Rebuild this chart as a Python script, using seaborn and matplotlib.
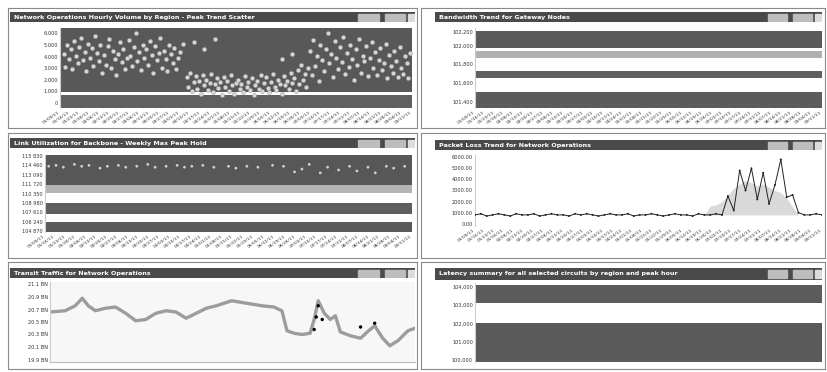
import numpy as np
import pandas as pd
import matplotlib
matplotlib.use('Agg')
import matplotlib.pyplot as plt
import seaborn as sns

W, H = 827, 372

# titulos de los paneles (texto casi ilegible en la captura)
titles = [
    'Network Operations Hourly Volume by Region - Peak Trend Scatter',
    'Bandwidth Trend for Gateway Nodes',
    'Link Utilization for Backbone - Weekly Max Peak Hold',
    'Packet Loss Trend for Network Operations',
    'Transit Traffic for Network Operations',
    'Latency summary for all selected circuits by region and peak hour',
]

# panel 1: nube de puntos
p1_x = [1, 1.5, 2, 2.5, 3, 3.5, 4, 4.5, 5, 5.5, 6, 6.5, 7, 7.5, 8, 8.5, 9, 9.5, 10, 10.5,
        11, 11.5, 12, 12.5, 13, 13.5, 14, 14.5, 15, 15.5, 16, 16.5, 17, 17.5, 18, 18.5, 19,
        19.5, 20, 20.5, 21, 21.5, 22, 22.5, 23, 23.5, 24, 24.5, 25, 25.5, 26, 26.5, 27, 27.5,
        28, 28.5, 29, 29.5, 30, 30.5, 31, 31.5, 32, 32.5, 33, 33.5, 34, 35,
        36, 36.5, 37, 37.5, 38, 38.5, 39, 39.5, 40, 40.5, 41, 41.5, 42, 42.5, 43, 43.5, 44,
        44.5, 45, 45.5, 46, 46.5, 47, 47.5, 48, 48.5, 49, 49.5, 50, 50.5, 51, 51.5, 52, 52.5,
        53, 53.5, 54, 54.5, 55, 55.5, 56, 56.5, 57, 57.5, 58, 58.5, 59, 59.5, 60, 60.5, 61,
        61.5, 62, 62.5, 63, 63.5, 64, 64.5, 65, 65.5, 66, 66.5, 67, 67.5, 68, 68.5, 69, 69.5,
        70, 70.5, 38, 41, 44, 63, 66,
        71, 71.5, 72, 72.5, 73, 73.5, 74, 74.5, 75, 75.5, 76, 76.5, 77, 77.5, 78, 78.5, 79,
        79.5, 80, 80.5, 81, 81.5, 82, 82.5, 83, 83.5, 84, 84.5, 85, 85.5, 86, 86.5, 87, 87.5,
        88, 88.5, 89, 89.5, 90, 90.5, 91, 91.5, 92, 92.5, 93, 93.5, 94, 94.5, 95, 95.5, 96,
        96.5, 97, 97.5, 98, 98.5, 99, 99.5]
p1_y = [4.2, 3.1, 5.0, 3.8, 4.6, 2.9, 5.3, 4.0, 3.4, 4.8, 5.6, 3.7, 4.4, 2.7, 5.1, 3.9, 4.7, 3.2, 5.8, 4.3,
        3.6, 5.0, 2.6, 4.1, 3.3, 4.9, 5.5, 3.0, 4.5, 3.8, 2.4, 4.2, 5.2, 3.5, 4.6, 2.9, 3.9,
        5.4, 4.0, 3.2, 4.8, 6.0, 3.6, 4.4, 2.8, 5.0, 3.9, 4.6, 3.3, 5.3, 4.1, 2.6, 4.9, 3.7,
        4.3, 5.6, 3.0, 4.5, 3.8, 2.7, 5.0, 4.2, 3.4, 4.7, 2.9, 3.9, 4.4, 5.1,
        2.2, 1.4, 2.6, 1.0, 1.8, 2.3, 1.2, 1.9, 0.8, 2.4, 1.5, 2.0, 1.1, 1.7, 2.5, 0.9, 1.6,
        2.1, 1.3, 1.8, 0.7, 2.2, 1.4, 1.9, 1.0, 2.4, 1.5, 0.8, 1.7, 2.0, 1.2, 1.6, 0.9, 2.3,
        1.4, 1.8, 1.1, 2.1, 0.7, 1.5, 1.9, 1.2, 2.4, 1.0, 1.7, 2.2, 1.3, 0.9, 1.8, 2.5, 1.4,
        1.1, 2.0, 1.6, 0.8, 2.3, 1.5, 1.9, 1.2, 2.6, 1.7, 2.1, 1.0, 2.8, 1.6, 3.3, 2.0, 2.5,
        1.4, 3.0, 5.2, 4.6, 5.5, 3.8, 4.2,
        4.5, 2.4, 5.4, 3.2, 4.0, 1.9, 5.0, 3.7, 2.7, 4.6, 6.0, 3.4, 4.2, 2.2, 5.3, 3.9, 2.9,
        4.8, 3.5, 5.7, 2.5, 4.3, 3.1, 5.0, 3.8, 2.0, 4.6, 3.3, 5.5, 2.6, 4.0, 3.6, 4.9, 2.3,
        3.9, 5.2, 3.0, 4.4, 2.4, 3.7, 4.7, 2.8, 3.4, 5.1, 2.1, 4.1, 3.2, 2.6, 4.5, 3.6, 2.2,
        4.8, 3.0, 2.5, 4.0, 3.4, 2.1, 4.3]
p1_yticks = ['0', '1,000', '2,000', '3,000', '4,000', '5,000', '6,000']
p1_bands = [(-0.45, 0.68, '#606060'), (0.94, 6.45, '#585858')]

# panel 2: franjas
p2_yticks = ['101,400', '101,600', '101,800', '102,000', '102,200']
p2_tickpos = [0.4, 1.9, 3.4, 4.9, 6.0]
p2_bands = [(-0.1, 1.2, '#5c5c5c'), (2.3, 2.9, '#606060'), (3.9, 4.5, '#b0b0b0'), (4.7, 6.1, '#5a5a5a')]

# panel 3: franjas con puntos arriba
p3_x = [1, 3, 5, 8, 10, 12, 15, 17, 20, 22, 25, 28, 30, 33, 36, 38, 40, 43, 46, 50, 52, 55,
        58, 62, 65, 68, 70, 72, 75, 77, 80, 83, 85, 88, 90, 93, 95, 98]
p3_y = [6.9, 7.0, 6.8, 7.1, 6.9, 7.0, 6.7, 6.9, 7.0, 6.8, 6.9, 7.1, 6.8, 6.9, 7.0, 6.8, 6.9,
        7.0, 6.8, 6.9, 6.7, 6.9, 6.8, 7.0, 6.9, 6.3, 6.6, 7.1, 6.2, 6.8, 6.5, 6.9, 6.4, 6.8,
        6.2, 6.9, 6.7, 6.9]
p3_yticks = ['104 870', '106 240', '107 610', '108 980', '110 350', '111 720', '113 090',
             '114 460', '115 830']
p3_bands = [(-0.1, 1.0, '#5a5a5a'), (1.8, 3.0, '#5e5e5e'), (4.1, 4.9, '#b4b4b4'), (4.9, 8.1, '#575757')]

# panel 4: linea con picos
p4_y = [0.8, 0.9, 0.7, 0.8, 0.9, 0.8, 0.7, 0.9, 0.8, 0.8, 0.9, 0.7, 0.8, 0.9, 0.8, 0.8,
        0.7, 0.9, 0.8, 0.9, 0.8, 0.7, 0.8, 0.9, 0.8, 0.8, 0.9, 0.7, 0.8, 0.8, 0.9, 0.8,
        0.7, 0.8, 0.9, 0.8, 0.8, 0.7, 0.9, 0.8, 0.8, 0.9, 0.8, 2.5, 1.2, 4.8, 3.0, 5.0,
        2.2, 4.6, 1.8, 3.5, 5.8, 2.4, 2.6, 1.0, 0.8, 0.8, 0.9, 0.8]
p4_shade = [0, 0, 0, 0, 0, 0, 0, 0, 0, 0, 0, 0, 0, 0, 0, 0, 0, 0, 0, 0, 0, 0, 0, 0, 0, 0,
            0, 0, 0, 0, 0, 0, 0, 0, 0, 0, 0, 0, 0, 0, 1.6, 1.7, 2.0, 2.6, 3.2, 3.6, 3.9, 3.7,
            3.4, 3.6, 3.3, 3.0, 2.8, 2.3, 1.5, 0, 0, 0, 0, 0]
p4_yticks = ['0.00', '1000.00', '2000.00', '3000.00', '4000.00', '5000.00', '6000.00']

# panel 5: linea suave
p5_x = [0, 15, 25, 32, 38, 45, 55, 65, 75, 85, 95, 105, 115, 125, 135, 145, 155, 165, 180,
        195, 210, 222, 230, 235, 242, 250, 258, 262, 266, 272, 278, 283, 288, 298, 308,
        316, 322, 330, 337, 345, 355, 362]
p5_y = [3.8, 3.9, 4.3, 4.9, 4.3, 3.9, 4.1, 4.2, 3.7, 3.1, 3.2, 3.7, 3.9, 3.8, 3.3, 3.7,
        4.1, 4.3, 4.7, 4.5, 4.3, 4.2, 3.9, 2.3, 2.1, 2.0, 2.1, 3.2, 4.7, 3.7, 3.2, 3.5,
        2.2, 1.9, 1.7, 2.3, 2.7, 1.7, 1.1, 1.5, 2.3, 2.5]
p5_dots_x = [322, 262, 264, 266, 270, 308]
p5_dots_y = [2.9, 2.4, 3.4, 4.3, 3.2, 2.6]
p5_yticks = ['19.9 BN', '20.1 BN', '20.3 BN', '20.5 BN', '20.7 BN', '20.9 BN', '21.1 BN']

# panel 6: franjas
p6_yticks = ['100,000', '101,000', '102,000', '103,000', '104,000']
p6_bands = [(-0.1, 2.0, '#5a5a5a'), (3.1, 4.1, '#5c5c5c')]

# etiquetas del eje x (fechas)
dates = pd.date_range('2011-01-03', periods=36, freq='W').strftime('%m/%d/%y').tolist()

sns.set_style('white')
plt.rcParams['font.family'] = ['DejaVu Sans']

fig = plt.figure(figsize=(8.27, 3.72), dpi=100)
fig.patch.set_facecolor('white')


def rect(x0, y0, x1, y1):
    return [x0 / W, 1 - y1 / H, (x1 - x0) / W, (y1 - y0) / H]


def frame(x0, y0, x1, y1):
    fr = fig.add_axes(rect(x0, y0, x1, y1), zorder=-5)
    fr.set_xticks([])
    fr.set_yticks([])
    for s in fr.spines.values():
        s.set_color('#8a8a8a')
        s.set_linewidth(0.8)


def title_bar(x0, y0, x1, y1, text):
    tb = fig.add_axes(rect(x0, y0, x1, y1))
    tb.set_facecolor('#4a4a4a')
    tb.set_xlim(0, 1)
    tb.set_ylim(0, 1)
    tb.set_xticks([])
    tb.set_yticks([])
    for s in tb.spines.values():
        s.set_visible(False)
    tb.text(0.01, 0.5, text, color='white', fontsize=4.6, fontweight='bold', va='center')
    for xi in [0.86, 0.925]:
        tb.add_patch(plt.Rectangle((xi, 0.15), 0.05, 0.7, color='#bdbdbd'))
    tb.add_patch(plt.Rectangle((0.982, 0.15), 0.016, 0.7, color='#dcdcdc'))


def setup(ax, ylim, labels, xlim=(0, 100), rot=35, ypos=None):
    ax.set_xlim(*xlim)
    ax.set_ylim(*ylim)
    ax.set_yticks(ypos if ypos is not None else range(len(labels)))
    ax.set_yticklabels(labels, fontsize=3.6, color='#333333')
    xt = np.linspace(xlim[0], xlim[1], len(dates))
    ax.set_xticks(xt)
    ax.set_xticklabels(dates, fontsize=3.2, rotation=rot, ha='right', color='#333333')
    ax.tick_params(length=0, pad=1.5)
    ax.set_xlabel('')
    ax.set_ylabel('')
    for s in ax.spines.values():
        s.set_visible(False)
    ax.spines['left'].set_visible(True)
    ax.spines['left'].set_color('#cccccc')


def bands(ax, spec):
    for lo, hi, c in spec:
        ax.axhspan(lo, hi, color=c, zorder=0, lw=0)


# marcos de los paneles
frame(8, 8, 417, 128)
frame(421, 8, 825, 128)
frame(8, 133, 417, 258)
frame(421, 133, 825, 258)
frame(8, 262, 417, 369)
frame(421, 262, 825, 369)

# panel 1
title_bar(10, 12, 415, 22, titles[0])
ax1 = fig.add_axes(rect(60, 28, 412, 108))
bands(ax1, p1_bands)
sns.scatterplot(x=p1_x, y=p1_y, ax=ax1, color='#d6d6d6', s=9, edgecolor='#9a9a9a',
                linewidth=0.3, zorder=3)
setup(ax1, (-0.45, 6.45), p1_yticks)

# panel 2
title_bar(435, 12, 822, 22, titles[1])
ax2 = fig.add_axes(rect(475, 28, 822, 108))
bands(ax2, p2_bands)
setup(ax2, (-0.1, 6.3), p2_yticks, ypos=p2_tickpos)

# panel 3
title_bar(10, 138, 415, 148, titles[2])
ax3 = fig.add_axes(rect(45, 155, 412, 232))
bands(ax3, p3_bands)
sns.scatterplot(x=p3_x, y=p3_y, ax=ax3, color='#d0d0d0', s=4, edgecolor='none', zorder=3)
setup(ax3, (-0.1, 8.1), p3_yticks)

# panel 4
title_bar(435, 140, 822, 150, titles[3])
ax4 = fig.add_axes(rect(475, 155, 822, 226))
p4_x = list(range(len(p4_y)))
ax4.fill_between(p4_x, 0.8, [max(v, 0.8) for v in p4_shade], color='#d9d9d9', lw=0, zorder=1)
sns.lineplot(x=p4_x, y=p4_y, ax=ax4, color='#222222', lw=0.7, zorder=3)
sns.scatterplot(x=p4_x, y=p4_y, ax=ax4, color='#222222', s=2, edgecolor='none', zorder=4)
setup(ax4, (-0.2, 6.2), p4_yticks, xlim=(0, len(p4_y) - 1))

# panel 5
title_bar(10, 268, 415, 278, titles[4])
ax5 = fig.add_axes(rect(50, 282, 415, 362))
ax5.set_facecolor('#f7f7f7')
sns.lineplot(x=p5_x, y=p5_y, ax=ax5, color='#9c9c9c', lw=2.4, zorder=2)
sns.scatterplot(x=p5_dots_x, y=p5_dots_y, ax=ax5, color='black', s=6, edgecolor='none', zorder=3)
setup(ax5, (-0.2, 6.2), p5_yticks, xlim=(0, 362), rot=0)
ax5.set_xticklabels(['' for d in dates])
ax5.spines['bottom'].set_visible(True)
ax5.spines['bottom'].set_color('#bbbbbb')

# panel 6
title_bar(435, 268, 822, 280, titles[5])
ax6 = fig.add_axes(rect(475, 283, 822, 362))
bands(ax6, p6_bands)
setup(ax6, (-0.1, 4.2), p6_yticks)
ax6.set_xticklabels(['' for d in dates])

fig.savefig('out.png', dpi=100, facecolor='white')
